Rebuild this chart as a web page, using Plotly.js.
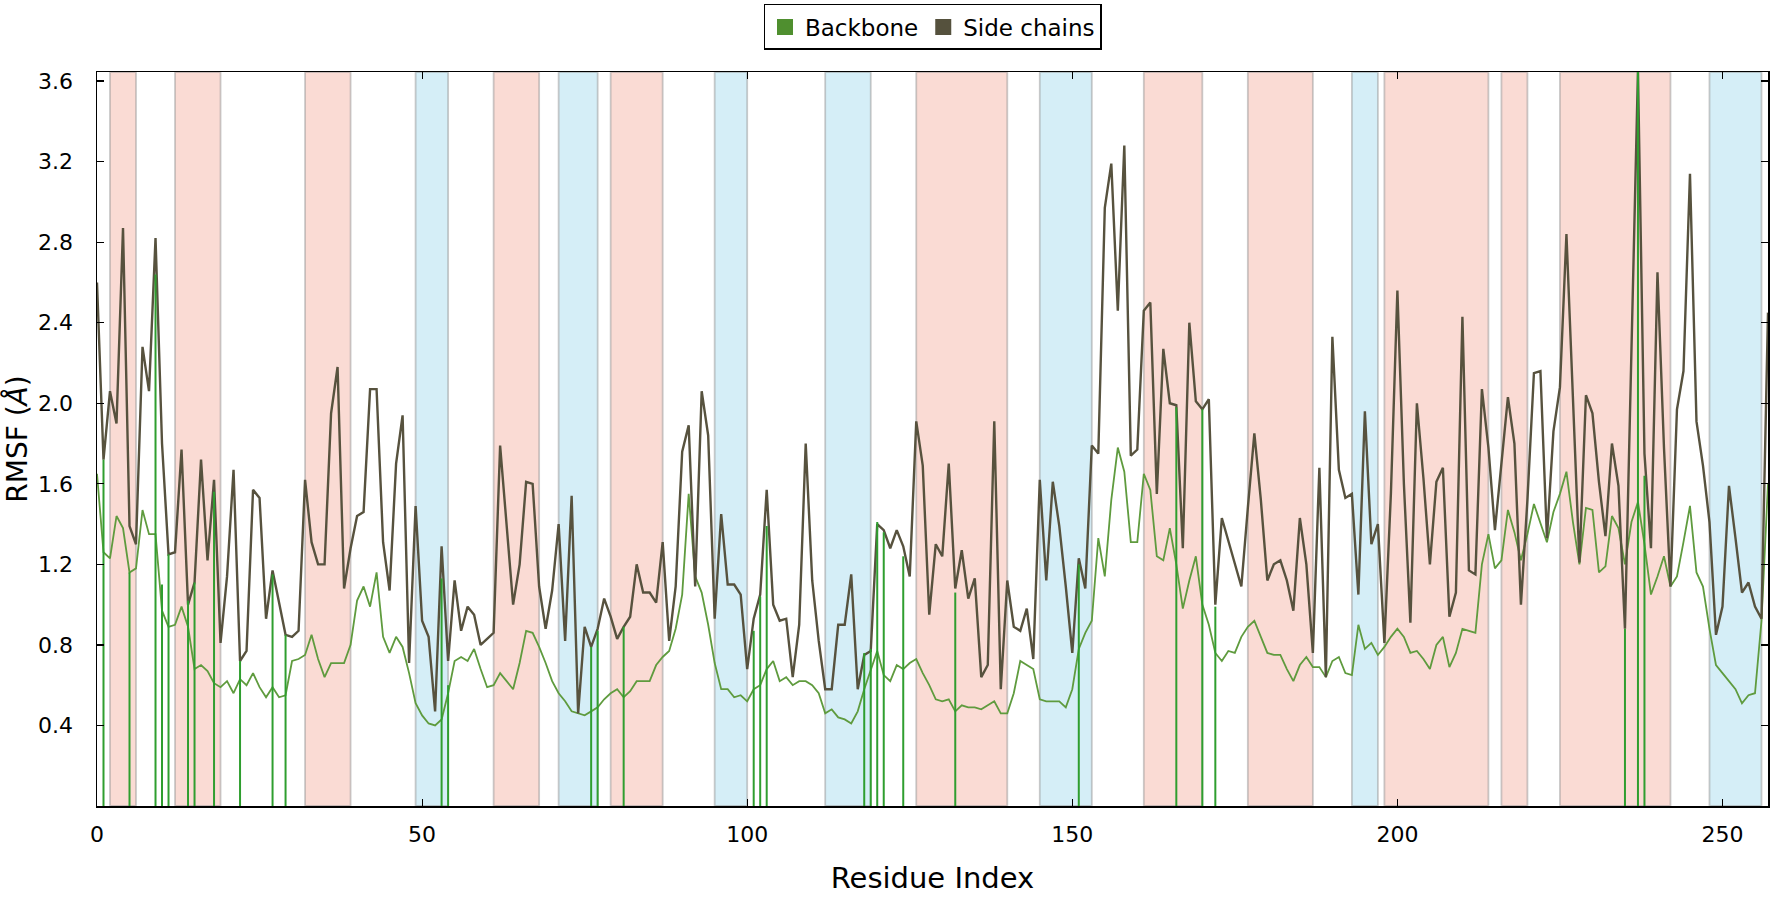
<!DOCTYPE html>
<html>
<head>
<meta charset="utf-8">
<script src="https://cdn.plot.ly/plotly-3.0.1.min.js"></script>
<style>
  html, body { margin: 0; padding: 0; background: #ffffff; }
  #chart { width: 1772px; height: 908px; }
</style>
</head>
<body>
<div id="chart"></div>
<script>
// ---- Data ----
const sideChains = [
  2.60,1.72,2.06,1.90,2.87,1.39,1.30,2.28,2.06,2.82,
  1.80,1.25,1.26,1.77,1.00,1.11,1.72,1.22,1.62,0.81,
  1.14,1.67,0.72,0.77,1.57,1.53,0.93,1.17,1.01,0.85,
  0.84,0.87,1.62,1.31,1.20,1.20,1.95,2.18,1.08,1.28,
  1.44,1.46,2.07,2.07,1.31,1.07,1.70,1.94,0.71,1.49,
  0.92,0.84,0.47,1.29,0.72,1.12,0.87,0.99,0.95,0.80,
  0.83,0.86,1.79,1.39,1.00,1.20,1.61,1.60,1.09,0.88,
  1.07,1.40,0.82,1.54,0.46,0.89,0.79,0.88,1.03,0.94,
  0.83,0.89,0.94,1.20,1.06,1.06,1.01,1.31,0.82,1.09,
  1.76,1.89,1.09,2.06,1.84,0.93,1.45,1.10,1.10,1.05,
  0.68,0.93,1.05,1.57,1.00,0.92,0.93,0.64,0.90,1.80,
  1.12,0.82,0.58,0.58,0.90,0.90,1.15,0.58,0.75,0.77,
  1.40,1.37,1.28,1.37,1.29,1.14,1.91,1.69,0.95,1.30,
  1.24,1.70,1.08,1.27,1.03,1.13,0.64,0.70,1.91,0.58,
  1.12,0.89,0.87,0.98,0.73,1.62,1.12,1.61,1.39,1.09,
  0.76,1.23,1.08,1.79,1.75,2.97,3.19,2.46,3.28,1.74,
  1.77,2.46,2.50,1.55,2.27,2.00,1.99,1.28,2.40,2.01,
  1.97,2.02,1.00,1.43,1.32,1.21,1.09,1.48,1.85,1.52,
  1.12,1.20,1.22,1.12,0.97,1.43,1.20,0.76,1.68,0.64,
  2.33,1.67,1.53,1.55,1.05,1.96,1.30,1.40,0.81,1.55,
  2.56,1.60,0.91,2.00,1.63,1.20,1.61,1.68,0.94,1.06,
  2.43,1.17,1.15,2.07,1.78,1.37,1.69,2.03,1.80,1.00,
  1.52,2.15,2.16,1.33,1.86,2.08,2.84,2.06,1.21,2.04,
  1.95,1.61,1.34,1.80,1.59,0.88,2.20,3.65,1.75,1.28,
  2.65,1.78,1.09,1.97,2.16,3.14,1.91,1.69,1.41,0.85,
  0.99,1.59,1.33,1.06,1.11,0.99,0.93,2.45
];
const backbone = [
  1.65,1.26,1.23,1.44,1.38,1.16,1.18,1.47,1.35,1.35,
  0.97,0.89,0.90,0.99,0.89,0.68,0.70,0.67,0.61,0.59,
  0.62,0.56,0.63,0.60,0.66,0.59,0.54,0.59,0.54,0.55,
  0.72,0.73,0.75,0.85,0.73,0.64,0.71,0.71,0.71,0.80,
  1.02,1.09,0.99,1.16,0.84,0.76,0.84,0.79,0.66,0.51,
  0.45,0.41,0.40,0.43,0.56,0.72,0.74,0.72,0.78,0.68,
  0.59,0.60,0.66,0.62,0.58,0.71,0.87,0.86,0.79,0.71,
  0.62,0.56,0.52,0.47,0.46,0.45,0.47,0.49,0.53,0.56,
  0.58,0.54,0.57,0.62,0.62,0.62,0.70,0.74,0.77,0.88,
  1.05,1.55,1.14,1.06,0.90,0.71,0.58,0.58,0.54,0.55,
  0.52,0.58,0.60,0.68,0.72,0.62,0.64,0.60,0.62,0.62,
  0.60,0.56,0.46,0.48,0.44,0.43,0.41,0.47,0.58,0.68,
  0.77,0.65,0.62,0.70,0.68,0.71,0.73,0.66,0.60,0.53,
  0.52,0.53,0.47,0.50,0.49,0.49,0.48,0.50,0.52,0.46,
  0.46,0.56,0.72,0.70,0.68,0.53,0.52,0.52,0.52,0.49,
  0.58,0.78,0.86,0.92,1.33,1.14,1.52,1.78,1.66,1.31,
  1.31,1.65,1.57,1.24,1.22,1.38,1.20,0.98,1.12,1.24,
  1.00,0.90,0.76,0.72,0.77,0.76,0.84,0.89,0.92,0.84,
  0.76,0.75,0.75,0.68,0.62,0.70,0.74,0.69,0.69,0.64,
  0.72,0.74,0.66,0.65,0.90,0.78,0.81,0.75,0.79,0.84,
  0.88,0.84,0.76,0.77,0.73,0.68,0.80,0.84,0.69,0.76,
  0.88,0.87,0.86,1.20,1.35,1.18,1.22,1.47,1.36,1.22,
  1.35,1.50,1.40,1.31,1.46,1.55,1.66,1.41,1.20,1.48,
  1.47,1.16,1.19,1.44,1.38,1.20,1.41,1.51,1.30,1.05,
  1.14,1.24,1.09,1.14,1.31,1.49,1.16,1.09,0.88,0.70,
  0.66,0.62,0.58,0.51,0.55,0.56,0.92,1.60
];
// highlighted residues (green vertical lines) and their heights
const markedResidues = [1,5,9,10,11,14,15,18,22,27,29,53,54,76,77,81,101,102,103,118,119,120,121,124,132,151,166,170,172,235,237,238];
const markedHeights  = [1.72,1.16,2.64,1.10,1.25,1.02,1.11,1.56,0.72,1.15,0.85,1.13,0.60,0.79,0.87,0.89,0.87,1.04,1.39,0.76,0.78,1.41,1.36,1.24,1.06,1.20,1.98,1.97,0.99,0.88,3.65,1.64];
// secondary structure ranges
const helixStart  = [2,12,32,61,79,126,161,177,198,216,225];
const helixEnd    = [6,19,39,68,87,140,170,187,214,220,242];
const strandStart = [49,71,95,112,145,193,248];
const strandEnd   = [54,77,100,119,153,197,256];
const yTicks = [0.4,0.8,1.2,1.6,2.0,2.4,2.8,3.2,3.6];
const xTicks = [0,50,100,150,200,250];

const residues = sideChains.map((_, i) => i);

// ---- Traces ----
const vx = [], vy = [];
markedResidues.forEach((r, k) => { vx.push(r, r, null); vy.push(0, markedHeights[k], null); });

const traces = [
  { type: 'scatter', mode: 'lines', x: residues, y: backbone, name: 'Backbone',
    line: { color: '#5f9b3e', width: 1.8 }, showlegend: false, hoverinfo: 'x+y' },
  { type: 'scatter', mode: 'lines', x: residues, y: sideChains, name: 'Side chains',
    line: { color: '#57523e', width: 2.4 }, showlegend: false, hoverinfo: 'x+y' },
  { type: 'scatter', mode: 'lines', x: vx, y: vy, name: 'marked',
    line: { color: '#2f9e2f', width: 2 }, showlegend: false, hoverinfo: 'skip' },
  // legend entries (square swatches)
  { type: 'scatter', mode: 'markers', x: [null], y: [null], name: 'Backbone',
    marker: { symbol: 'square', size: 18, color: '#4f8f2f', line: { width: 0 } } },
  { type: 'scatter', mode: 'markers', x: [null], y: [null], name: 'Side chains',
    marker: { symbol: 'square', size: 18, color: '#55513d', line: { width: 0 } } }
];

// ---- Shapes (secondary structure bands) ----
const shapes = [];
helixStart.forEach((s, k) => shapes.push({
  type: 'rect', xref: 'x', yref: 'paper', x0: s, x1: helixEnd[k], y0: 0, y1: 1, layer: 'below',
  fillcolor: '#fadbd4', line: { color: 'rgba(150,150,150,0.5)', width: 1.8 }
}));
strandStart.forEach((s, k) => shapes.push({
  type: 'rect', xref: 'x', yref: 'paper', x0: s, x1: strandEnd[k], y0: 0, y1: 1, layer: 'below',
  fillcolor: '#d5eef7', line: { color: 'rgba(150,150,150,0.5)', width: 1.8 }
}));

const font = 'DejaVu Sans, Liberation Sans, sans-serif';
const layout = {
  width: 1772, height: 908,
  margin: { l: 97, r: 4, t: 59, b: 102 },
  paper_bgcolor: '#ffffff', plot_bgcolor: '#ffffff',
  font: { family: font, color: '#000000', size: 20 },
  showlegend: true,
  legend: {
    orientation: 'h', x: 0.5, xanchor: 'center', y: 1.03, yanchor: 'bottom',
    bordercolor: '#000000', borderwidth: 1.5, bgcolor: '#ffffff',
    font: { family: font, size: 23, color: '#000' },
    itemwidth: 30, tracegroupgap: 0
  },
  xaxis: {
    range: [0, 257], tickvals: xTicks, ticktext: xTicks.map(String),
    ticks: 'inside', ticklen: 7, tickwidth: 1.2, tickcolor: '#000',
    showline: true, linecolor: '#000', linewidth: 1.5, mirror: 'ticks',
    showgrid: false, zeroline: false,
    tickfont: { family: font, size: 22 }, ticklabelstandoff: 8,
    title: { text: 'Residue Index', font: { family: font, size: 29 }, standoff: 22 }
  },
  yaxis: {
    range: [0, 3.645], tickvals: yTicks, ticktext: yTicks.map(v => v.toFixed(1)),
    ticks: 'inside', ticklen: 7, tickwidth: 1.2, tickcolor: '#000',
    showline: true, linecolor: '#000', linewidth: 1.5, mirror: 'ticks',
    showgrid: false, zeroline: false,
    tickfont: { family: font, size: 22 }, ticklabelstandoff: 18,
    title: { text: 'RMSF (<i>Å</i>)', font: { family: font, size: 28 }, standoff: 12 }
  },
  shapes: shapes
};

Plotly.newPlot('chart', traces, layout, { displayModeBar: false, staticPlot: true });
</script>
</body>
</html>
